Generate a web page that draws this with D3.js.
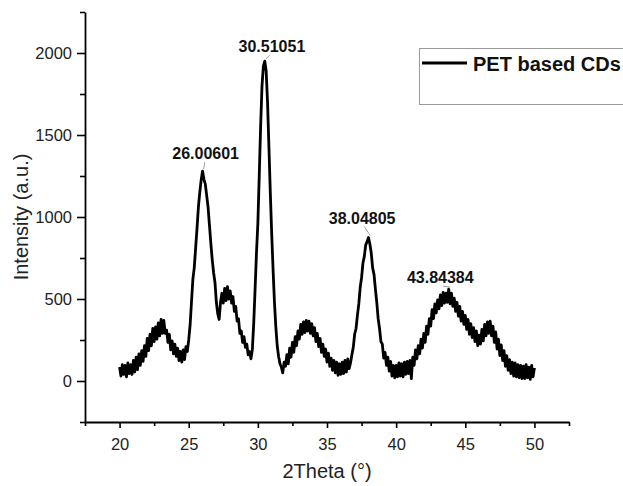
<!DOCTYPE html>
<html>
<head>
<meta charset="utf-8">
<script src="https://cdn.jsdelivr.net/npm/d3@7/dist/d3.min.js"></script>
<style>
  html, body { margin: 0; padding: 0; background: #fff; }
  svg { display: block; font-family: "Liberation Sans", Arial, sans-serif; }
</style>
</head>
<body>
<svg id="chart" width="623" height="486"></svg>
<script>
// XRD pattern of PET based carbon dots, sampled every 0.1° from 20° to 50°
const thetaStart = 20;
const thetaStep = 0.1;
const intensity = [
  85, 30, 100, 40, 95, 25, 110, 45, 100, 40,          // 20
  125, 55, 145, 70, 165, 95, 185, 120, 215, 150,      // 21
  260, 185, 285, 215, 320, 240, 330, 255, 355, 275,   // 22
  375, 290, 370, 290, 310, 235, 285, 190, 245, 165,   // 23
  225, 150, 200, 125, 180, 115, 190, 130, 210, 180,   // 24
  250, 340, 480, 620, 690, 810, 930, 1060, 1150, 1225, // 25
  1280, 1230, 1200, 1130, 1060, 950, 840, 740, 660, 600, // 26
  480, 410, 375, 480, 535, 475, 565, 490, 575, 500,   // 27
  550, 475, 515, 425, 455, 365, 380, 290, 305, 235,   // 28
  270, 205, 225, 160, 180, 135, 190, 350, 560, 780,   // 29
  960, 1250, 1550, 1800, 1920, 1950, 1890, 1700, 1430, 1150, // 30
  900, 680, 480, 330, 215, 150, 105, 85, 50, 115,     // 31
  90, 160, 105, 200, 145, 235, 175, 270, 215, 305,    // 32
  255, 345, 285, 360, 295, 370, 305, 365, 290, 350,   // 33
  275, 325, 240, 290, 210, 260, 175, 225, 150, 195,   // 34
  115, 170, 90, 140, 65, 125, 50, 115, 35, 105,       // 35
  40, 115, 45, 125, 55, 135, 75, 110, 160, 205,       // 36
  285, 320, 400, 470, 570, 630, 720, 760, 830, 850,   // 37
  875, 835, 780, 690, 650, 560, 480, 380, 320, 240,   // 38
  225, 140, 175, 95, 145, 60, 120, 30, 95, 20,        // 39
  95, 25, 110, 30, 105, 25, 115, 40, 120, 45,         // 40
  125, 15, 145, 95, 190, 135, 215, 165, 255, 200,     // 41
  290, 235, 335, 285, 380, 335, 435, 380, 470, 415,   // 42
  495, 440, 525, 460, 540, 475, 535, 480, 560, 470,   // 43
  535, 455, 505, 425, 480, 395, 455, 365, 425, 345,   // 44
  400, 315, 375, 285, 350, 265, 325, 240, 305, 215,   // 45
  280, 225, 315, 245, 345, 275, 360, 290, 365, 275,   // 46
  335, 235, 300, 195, 255, 155, 220, 125, 185, 90,    // 47
  155, 65, 130, 45, 115, 30, 110, 25, 100, 20,        // 48
  95, 15, 90, 15, 100, 20, 85, 10, 95, 25,            // 49
  80                                                  // 50
];

// Labelled reflections
const peakTheta = [26.00601, 30.51051, 38.04805, 43.84384];
const peakIntensity = [1280, 1950, 875, 560];
const peakLabels = ["26.00601", "30.51051", "38.04805", "43.84384"];

// Axis ticks
const xTicks = [20, 25, 30, 35, 40, 45, 50];
const xMinorTicks = [17.5, 22.5, 27.5, 32.5, 37.5, 42.5, 47.5, 52.5];
const yTicks = [0, 500, 1000, 1500, 2000];
const yMinorTicks = [-250, 250, 750, 1250, 1750, 2250];

const seriesName = "PET based CDs";
const xTitle = "2Theta (°)";
const yTitle = "Intensity (a.u.)";

const svg = d3.select("#chart");

const x = d3.scaleLinear().domain([17.5, 52.5]).range([85, 569]);
const y = d3.scaleLinear().domain([-250, 2250]).range([422, 12]);

const points = intensity.map((v, i) => [thetaStart + i * thetaStep, v]);

// Axes
const styleAxis = g => {
  g.selectAll("path.domain").attr("stroke", "#000").attr("stroke-width", 1.8);
  g.selectAll(".tick line").attr("stroke", "#000").attr("stroke-width", 1.6);
  g.selectAll(".tick text").attr("fill", "#222").style("font-size", "16.5px")
    .style("font-family", "'Liberation Sans', Arial, sans-serif");
};

svg.append("g")
  .attr("transform", `translate(0,${y.range()[0]})`)
  .call(d3.axisBottom(x).tickValues(xMinorTicks).tickSize(4).tickFormat(""))
  .call(g => g.select("path.domain").remove())
  .call(styleAxis);

svg.append("g")
  .attr("transform", `translate(0,${y.range()[0]})`)
  .call(d3.axisBottom(x).tickValues(xTicks).tickSize(6).tickSizeOuter(0).tickPadding(10).tickFormat(d3.format("d")))
  .call(styleAxis);

svg.append("g")
  .attr("transform", `translate(${x.range()[0]},0)`)
  .call(d3.axisLeft(y).tickValues(yMinorTicks).tickSize(5).tickFormat(""))
  .call(g => g.select("path.domain").remove())
  .call(styleAxis);

svg.append("g")
  .attr("transform", `translate(${x.range()[0]},0)`)
  .call(d3.axisLeft(y).tickValues(yTicks).tickSize(8).tickSizeOuter(0).tickPadding(5).tickFormat(d3.format("d")))
  .call(styleAxis);

// Axis titles
svg.append("text")
  .attr("x", (x.range()[0] + x.range()[1]) / 2)
  .attr("y", 478)
  .attr("text-anchor", "middle")
  .attr("fill", "#222")
  .style("font-size", "20px")
  .text(xTitle);

svg.append("text")
  .attr("transform", `translate(28,${(y(2250) + y(-250)) / 2}) rotate(-90)`)
  .attr("text-anchor", "middle")
  .attr("fill", "#222")
  .style("font-size", "20px")
  .text(yTitle);

// Diffraction pattern
svg.append("path")
  .datum(points)
  .attr("fill", "none")
  .attr("stroke", "#000")
  .attr("stroke-width", 2.8)
  .attr("stroke-linejoin", "round")
  .attr("d", d3.line().x(d => x(d[0])).y(d => y(d[1])));

// Peak annotations with leader lines
const labelOffsets = [[3, -12], [7, -9], [-7, -14], [-9, -6]];
peakTheta.forEach((t, i) => {
  const px = x(t), py = y(peakIntensity[i]);
  const [dx, dy] = labelOffsets[i];
  svg.append("line")
    .attr("x1", px + 1).attr("y1", py - 2)
    .attr("x2", px + dx * 0.7).attr("y2", py + dy + 3)
    .attr("stroke", "#888").attr("stroke-width", 0.8);
  svg.append("text")
    .attr("x", px + dx)
    .attr("y", py + dy)
    .attr("text-anchor", "middle")
    .attr("fill", "#111")
    .style("font-size", "16px")
    .style("font-weight", "bold")
    .text(peakLabels[i]);
});

// Legend
const legend = svg.append("g");
legend.append("rect")
  .attr("x", 419.5).attr("y", 48.5)
  .attr("width", 220).attr("height", 56)
  .attr("fill", "#fff").attr("stroke", "#999").attr("stroke-width", 1);
legend.append("line")
  .attr("x1", 422).attr("x2", 467).attr("y1", 63).attr("y2", 63)
  .attr("stroke", "#000").attr("stroke-width", 3);
legend.append("text")
  .attr("x", 473).attr("y", 70.5)
  .attr("fill", "#111")
  .style("font-size", "20px")
  .style("font-weight", "bold")
  .text(seriesName);
</script>
</body>
</html>
